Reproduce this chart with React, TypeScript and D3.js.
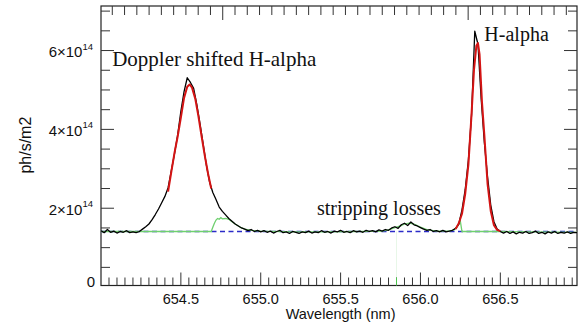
import React from "react";
import * as d3 from "d3";

const WIDTH = 578;
const HEIGHT = 327;

// Spectrometer sampling grid (nm)
const WL_START = 654.0;
const WL_STEP = 0.02;

// Measured emission, units of 1e14 ph/s/m2, one value per grid point
const measured: number[] = [
  1.43, 1.38, 1.46, 1.39, 1.42, 1.37, 1.41, 1.39, 1.43, 1.38,
  1.40, 1.38, 1.41, 1.47, 1.53, 1.60, 1.71, 1.84, 1.98, 2.14,
  2.30, 2.52, 2.95, 3.38, 3.86, 4.46, 4.96, 5.31, 5.19, 5.04,
  4.63, 4.14, 3.62, 3.09, 2.66, 2.40, 2.22, 2.03, 1.92, 1.83,
  1.74, 1.67, 1.60, 1.55, 1.50, 1.47, 1.43, 1.46, 1.41, 1.44,
  1.40, 1.43, 1.39, 1.42, 1.37, 1.41, 1.44, 1.38, 1.40, 1.36,
  1.41, 1.39, 1.36, 1.40, 1.38, 1.42, 1.37, 1.40, 1.38, 1.43,
  1.39, 1.41, 1.37, 1.42, 1.40, 1.44, 1.39, 1.41, 1.38, 1.43,
  1.40, 1.42, 1.39, 1.44, 1.41, 1.43, 1.40, 1.45, 1.42, 1.46,
  1.44, 1.50, 1.53, 1.49, 1.58, 1.62, 1.56, 1.65, 1.58, 1.55,
  1.51, 1.47, 1.44, 1.46, 1.41, 1.43, 1.40, 1.44, 1.40, 1.42,
  1.44, 1.49, 1.60, 1.96, 2.47, 3.22, 4.38, 6.49, 6.16, 4.78,
  3.66, 2.80, 2.08, 1.66, 1.47, 1.41, 1.37, 1.41, 1.36, 1.40,
  1.35, 1.39, 1.37, 1.41, 1.36, 1.38, 1.42, 1.36, 1.39, 1.35,
  1.40, 1.37, 1.41, 1.36, 1.39, 1.37, 1.40, 1.36, 1.39, 1.38,
];

// Gaussian fit of the Doppler shifted component
const dopplerFitWl = [654.42, 654.44, 654.46, 654.48, 654.5, 654.52, 654.54, 654.555, 654.57, 654.59, 654.61, 654.63, 654.65, 654.67, 654.69];
const dopplerFitVal = [2.42, 2.92, 3.4, 3.82, 4.3, 4.8, 5.08, 5.14, 5.06, 4.78, 4.33, 3.82, 3.33, 2.88, 2.5];

// Gaussian fit of the unshifted H-alpha line
const halphaFitWl = [656.22, 656.24, 656.26, 656.28, 656.3, 656.32, 656.335, 656.35, 656.36, 656.37, 656.385, 656.4, 656.42, 656.44, 656.46, 656.48, 656.5];
const halphaFitVal = [1.47, 1.62, 1.86, 2.36, 3.1, 4.4, 5.5, 6.12, 6.19, 5.9, 4.7, 3.85, 2.62, 1.93, 1.57, 1.45, 1.42];

// Residual after removing both fitted lines
const residualWl = [654.0, 654.3, 654.69, 654.7, 654.71, 654.72, 654.73, 654.74, 654.75, 654.76, 654.78, 654.8, 654.82, 654.84, 654.86, 654.88, 654.9, 654.94, 655.0, 655.2, 655.4, 655.6, 655.76, 655.8, 655.84, 655.88, 655.9, 655.93, 655.96, 656.0, 656.04, 656.1, 656.18, 656.21, 656.23, 656.25, 656.26, 656.5, 656.7, 656.98];
const residualVal = [1.41, 1.41, 1.41, 1.52, 1.62, 1.7, 1.74, 1.72, 1.76, 1.73, 1.74, 1.72, 1.66, 1.6, 1.55, 1.5, 1.47, 1.44, 1.42, 1.4, 1.4, 1.41, 1.42, 1.45, 1.51, 1.56, 1.6, 1.62, 1.6, 1.52, 1.46, 1.42, 1.42, 1.45, 1.53, 1.66, 1.41, 1.41, 1.4, 1.39];

const BASELINE = 1.41;
const MARKER_WL = 655.85;

const xMajorTicks = [654.5, 655.0, 655.5, 656.0, 656.5];
const xTickLabels = ["654.5", "655.0", "655.5", "656.0", "656.5"];
const yMajorTicks = [2, 4, 6];
const yTickMantissa = ["2", "4", "6"];
const Y_EXPONENT = "14";

const annotations = [
  { text: "Doppler shifted H-alpha", wl: 654.07, val: 5.6, size: 21, anchor: "start" },
  { text: "H-alpha", wl: 656.4, val: 6.25, size: 20, anchor: "start" },
  { text: "stripping losses", wl: 655.74, val: 1.84, size: 20, anchor: "middle" },
];

const PLOT = { left: 101, right: 577, top: 6, bottom: 285.5 };

const SANS = "'Liberation Sans', Arial, Helvetica, sans-serif";
const SERIF = "'Liberation Serif', 'Times New Roman', serif";

export default function App() {
  const x = d3.scaleLinear().domain([654.0, 656.98]).range([PLOT.left, PLOT.right]);
  const y = d3.scaleLinear().domain([0.04, 7.13]).range([PLOT.bottom, PLOT.top]);
  // unlabelled secondary scale along the top edge
  const top = d3.scaleLinear().domain([-9.92, 28.87]).range([PLOT.left, PLOT.right]);

  const measuredPts: [number, number][] = measured.map((v, i) => [WL_START + i * WL_STEP, v]);
  const dopplerPts: [number, number][] = dopplerFitWl.map((w, i) => [w, dopplerFitVal[i]]);
  const halphaPts: [number, number][] = halphaFitWl.map((w, i) => [w, halphaFitVal[i]]);
  const residualPts: [number, number][] = residualWl.map((w, i) => [w, residualVal[i]]);

  const line = d3
    .line<[number, number]>()
    .x((d) => x(d[0]))
    .y((d) => y(d[1]));

  const xMinor = x.ticks(60).filter((t) => t > 654.0 && t < 656.98);
  const yMinor = y.ticks(14).filter((t) => t > 0.2);
  const topTicks = top.ticks(40).filter((t) => top(t) > PLOT.left + 1 && top(t) < PLOT.right - 1);

  const isMajorX = (t: number) => Math.abs(t * 2 - Math.round(t * 2)) < 1e-6;
  const isMajorY = (t: number) => Math.abs(t / 2 - Math.round(t / 2)) < 1e-6;

  const tickColor = "#333";

  return (
    <svg
      width={WIDTH}
      height={HEIGHT}
      style={{ position: "fixed", left: 0, top: 0, background: "#fff" }}
    >
      <rect x={0} y={0} width={WIDTH} height={HEIGHT} fill="#fff" />

      {/* frame */}
      <rect
        x={PLOT.left}
        y={PLOT.top}
        width={PLOT.right - PLOT.left}
        height={PLOT.bottom - PLOT.top}
        fill="none"
        stroke="#222"
        strokeWidth={1.2}
      />

      {/* bottom and top axis ticks */}
      {xMinor.map((t) => {
        const len = isMajorX(t) ? 13 : 8;
        return (
          <line
            key={"xb" + t}
            x1={x(t)}
            x2={x(t)}
            y1={PLOT.bottom}
            y2={PLOT.bottom - len}
            stroke={tickColor}
            strokeWidth={1}
          />
        );
      })}
      {topTicks.map((t) => {
        const len = Math.round(t) % 20 === 0 ? 14 : 9;
        return (
          <line
            key={"xt" + t}
            x1={top(t)}
            x2={top(t)}
            y1={PLOT.top}
            y2={PLOT.top + len}
            stroke={tickColor}
            strokeWidth={1}
          />
        );
      })}

      {/* left and right axis ticks */}
      {yMinor.map((t) => {
        const len = isMajorY(t) ? 13 : 9;
        return (
          <g key={"y" + t}>
            <line x1={PLOT.left} x2={PLOT.left + len} y1={y(t)} y2={y(t)} stroke={tickColor} strokeWidth={1} />
            <line x1={PLOT.right} x2={PLOT.right - len} y1={y(t)} y2={y(t)} stroke={tickColor} strokeWidth={1} />
          </g>
        );
      })}

      {/* x tick labels */}
      {xMajorTicks.map((t, i) => (
        <text
          key={"xl" + t}
          x={x(t)}
          y={303.5}
          textAnchor="middle"
          fontFamily={SANS}
          fontSize={14.5}
          fill="#111"
        >
          {xTickLabels[i]}
        </text>
      ))}
      <text x={x(655.5)} y={319} textAnchor="middle" fontFamily={SANS} fontSize={14.5} fill="#111">
        Wavelength (nm)
      </text>

      {/* y tick labels */}
      <text x={95} y={y(0) - 0.5} textAnchor="end" fontFamily={SANS} fontSize={15} fill="#111">
        0
      </text>
      {yMajorTicks.map((t, i) => (
        <text
          key={"yl" + t}
          x={93}
          y={y(t) + 6.5}
          textAnchor="end"
          fontFamily={SANS}
          fontSize={15}
          fill="#111"
        >
          {yTickMantissa[i]}×10
          <tspan dy={-7.5} fontSize={9.5}>
            {Y_EXPONENT}
          </tspan>
        </text>
      ))}
      <text
        transform={`translate(31, ${y(3.6)}) rotate(-90)`}
        textAnchor="middle"
        fontFamily={SANS}
        fontSize={16}
        fill="#111"
      >
        ph/s/m2
      </text>

      {/* marker */}
      <line
        x1={x(MARKER_WL)}
        x2={x(MARKER_WL)}
        y1={y(BASELINE)}
        y2={PLOT.bottom}
        stroke="#7fd07f"
        strokeOpacity={0.18}
        strokeWidth={1}
      />
      <line
        x1={x(MARKER_WL)}
        x2={x(MARKER_WL)}
        y1={PLOT.bottom - 8}
        y2={PLOT.bottom}
        stroke="#4cc44c"
        strokeWidth={1}
      />

      <g clipPath="url(#plotClip)">
        <defs>
          <clipPath id="plotClip">
            <rect x={PLOT.left} y={PLOT.top} width={PLOT.right - PLOT.left} height={PLOT.bottom - PLOT.top} />
          </clipPath>
        </defs>
        {/* background level */}
        <line
          x1={PLOT.left}
          x2={PLOT.right}
          y1={y(BASELINE)}
          y2={y(BASELINE)}
          stroke="#2b2bc8"
          strokeWidth={1.6}
          strokeDasharray="5 3.5"
        />
        {/* residual */}
        <path d={line(residualPts) ?? ""} fill="none" stroke="#6fd06f" strokeWidth={1.3} />
        {/* measurement */}
        <path d={line(measuredPts) ?? ""} fill="none" stroke="#000" strokeWidth={1.3} strokeLinejoin="round" />
        {/* fits */}
        <path d={line(dopplerPts) ?? ""} fill="none" stroke="#d41414" strokeWidth={2} strokeLinejoin="round" />
        <path d={line(halphaPts) ?? ""} fill="none" stroke="#d41414" strokeWidth={2} strokeLinejoin="round" />
      </g>

      {/* annotations */}
      {annotations.map((a) => (
        <text
          key={a.text}
          x={x(a.wl)}
          y={y(a.val)}
          textAnchor={a.anchor}
          fontFamily={SERIF}
          fontSize={a.size}
          fill="#111"
        >
          {a.text}
        </text>
      ))}
    </svg>
  );
}
